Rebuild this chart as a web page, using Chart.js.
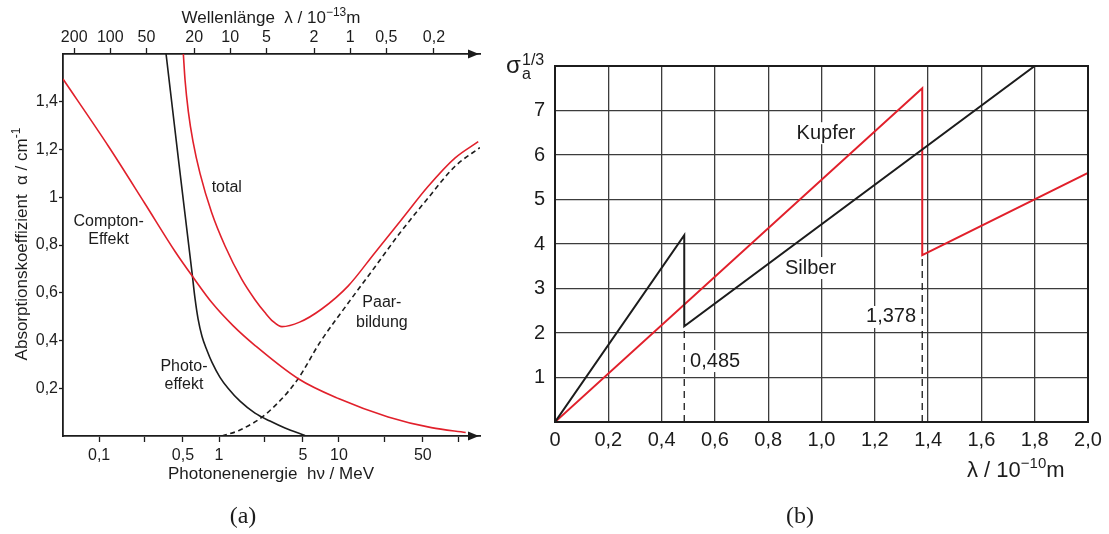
<!DOCTYPE html>
<html>
<head>
<meta charset="utf-8">
<script src="https://cdn.jsdelivr.net/npm/chart.js@4.4.1/dist/chart.umd.min.js"></script>
<style>
html, body { margin: 0; padding: 0; background: #fff; }
#wrap { position: relative; width: 1109px; height: 534px; }
#chartA { position: absolute; left: 0; top: 0; }
#chartB { position: absolute; left: 490px; top: 0; }
</style>
</head>
<body>
<div id="wrap">
  <canvas id="chartA" width="490" height="534"></canvas>
  <canvas id="chartB" width="619" height="534"></canvas>
</div>
<script>
// (a) absorption coefficient vs photon energy (MeV)
const comptonE = [0.05, 0.12, 0.24, 0.43, 0.596, 0.874, 1.308, 2.0, 4.58, 9.9, 25.7, 59, 114];
const comptonA = [1.495, 1.2125, 0.975, 0.773, 0.671, 0.558, 0.4625, 0.379, 0.24, 0.157, 0.08, 0.035, 0.015];

const photoE = [0.3617, 0.464, 0.5957, 0.631, 0.668, 0.7217, 0.794, 0.874, 1.019, 1.189, 1.496, 1.995, 2.661, 3.548, 5.21];
const photoA = [1.6, 1.1375, 0.6833, 0.575, 0.4917, 0.4167, 0.3583, 0.3083, 0.2458, 0.2, 0.1458, 0.0958, 0.0625, 0.0333, 0.002];

const totalE = [0.504, 0.521, 0.555, 0.607, 0.694, 0.869, 1.122, 1.545, 1.995, 2.416, 2.818, 3.35, 4.7, 7.18, 11.96, 19.95, 33.3, 55.5, 92.6, 145];
const totalA = [1.6, 1.49, 1.358, 1.233, 1.1, 0.935, 0.796, 0.657, 0.571, 0.517, 0.48, 0.458, 0.477, 0.532, 0.629, 0.768, 0.907, 1.046, 1.164, 1.233];

const pairE = [1.059, 1.496, 2.512, 4.467, 6.945, 12.35, 19.95, 32.2, 55.2, 92.6, 149.6];
const pairA = [0, 0.025, 0.096, 0.233, 0.392, 0.567, 0.708, 0.85, 0.996, 1.129, 1.208];

const energyTicks = [0.1, 0.24, 0.5, 1, 2.4, 5, 10, 24, 50, 100];
const energyLabels = ['0,1', '', '0,5', '1', '', '5', '10', '', '50', ''];
const waveTicks = [200, 100, 50, 20, 10, 5, 2, 1, 0.5, 0.2];
const waveLabels = ['200', '100', '50', '20', '10', '5', '2', '1', '0,5', '0,2'];
const alphaTicks = [0.2, 0.4, 0.6, 0.8, 1, 1.2, 1.4];
const alphaLabels = ['0,2', '0,4', '0,6', '0,8', '1', '1,2', '1,4'];

// (b) sigma^(1/3) vs wavelength (10^-10 m)
const silberX = [0, 0.485, 0.485, 1.8];
const silberY = [0, 4.2, 2.15, 8.0];
const kupferX = [0, 1.378, 1.378, 2.0];
const kupferY = [0, 7.5, 3.75, 5.6];
const edgeAgX = [0.485, 0.485];
const edgeAgY = [0, 2.15];
const edgeCuX = [1.378, 1.378];
const edgeCuY = [0, 3.75];

const lambdaTicks = [0, 0.2, 0.4, 0.6, 0.8, 1.0, 1.2, 1.4, 1.6, 1.8, 2.0];
const lambdaLabels = ['0', '0,2', '0,4', '0,6', '0,8', '1,0', '1,2', '1,4', '1,6', '1,8', '2,0'];
const sigmaTicks = [0, 1, 2, 3, 4, 5, 6, 7, 8];
const sigmaLabels = ['', '1', '2', '3', '4', '5', '6', '7', ''];

const red = '#e1202b';
const ink = '#1c1c1c';
const FONT = "'Liberation Sans', Arial, Helvetica, sans-serif";
Chart.defaults.font.family = FONT;
Chart.defaults.color = ink;

function pts(xs, ys) {
  return xs.map((x, i) => ({ x: x, y: ys[i] }));
}

// text with superscript / subscript pieces, y is the baseline
function richText(ctx, parts, x, y, size, align) {
  const small = Math.round(size * 0.7);
  let w = 0;
  parts.forEach(p => {
    ctx.font = (p[1] === 'n' ? size : small) + 'px ' + FONT;
    w += ctx.measureText(p[0]).width;
  });
  let cx = align === 'center' ? x - w / 2 : (align === 'right' ? x - w : x);
  ctx.textAlign = 'left';
  ctx.textBaseline = 'alphabetic';
  parts.forEach(p => {
    const s = p[1] === 'n' ? size : small;
    ctx.font = s + 'px ' + FONT;
    const dy = p[1] === 'sup' ? -size * 0.42 : (p[1] === 'sub' ? size * 0.25 : 0);
    ctx.fillText(p[0], cx, y + dy);
    cx += ctx.measureText(p[0]).width;
  });
}

function lines(ctx, arr, x, y, gap) {
  arr.forEach((t, i) => ctx.fillText(t, x, y + i * gap));
}

const annotA = {
  id: 'annotA',
  afterDraw(chart) {
    const ctx = chart.ctx;
    const a = chart.chartArea;
    const sx = chart.scales.x, sy = chart.scales.y;
    ctx.save();
    ctx.fillStyle = ink;
    // arrow heads on top and bottom axes
    [a.top, a.bottom].forEach(yy => {
      ctx.beginPath();
      ctx.moveTo(a.right - 1, yy);
      ctx.lineTo(a.right - 12, yy - 4.5);
      ctx.lineTo(a.right - 12, yy + 4.5);
      ctx.closePath();
      ctx.fill();
    });
    // axis titles
    richText(ctx, [['Wellenlänge  λ / 10', 'n'], ['−13', 'sup'], ['m', 'n']], 271, 23, 17, 'center');
    richText(ctx, [['Photonenenergie  hν / MeV', 'n']], 271, 479, 17, 'center');
    ctx.save();
    ctx.translate(27, 244);
    ctx.rotate(-Math.PI / 2);
    richText(ctx, [['Absorptionskoeffizient  α / cm', 'n'], ['-1', 'sup']], 0, 0, 17, 'center');
    ctx.restore();
    // curve labels
    ctx.font = '16px ' + FONT;
    ctx.textAlign = 'center';
    ctx.textBaseline = 'middle';
    ctx.fillText('total', sx.getPixelForValue(1.16), sy.getPixelForValue(1.04));
    lines(ctx, ['Compton-', 'Effekt'], sx.getPixelForValue(0.12), sy.getPixelForValue(0.9), 18);
    lines(ctx, ['Photo-', 'effekt'], sx.getPixelForValue(0.51), sy.getPixelForValue(0.29), 18);
    lines(ctx, ['Paar-', 'bildung'], sx.getPixelForValue(22.8), sy.getPixelForValue(0.558), 20);
    // caption
    ctx.font = '24px "Liberation Serif", "DejaVu Serif", serif';
    ctx.fillText('(a)', 243, 517);
    ctx.restore();
  }
};

new Chart(document.getElementById('chartA'), {
  type: 'line',
  data: {
    datasets: [
      { data: pts(comptonE, comptonA), borderColor: red },
      { data: pts(totalE, totalA), borderColor: red },
      { data: pts(photoE, photoA), borderColor: ink },
      { data: pts(pairE, pairA), borderColor: ink, borderDash: [5, 3.5] }
    ]
  },
  options: {
    responsive: false,
    animation: false,
    devicePixelRatio: 1,
    layout: { padding: { left: 0, right: 10, top: 0, bottom: 38 } },
    elements: {
      point: { radius: 0 },
      line: { borderWidth: 1.6, cubicInterpolationMode: 'monotone', fill: false }
    },
    plugins: { legend: { display: false }, tooltip: { enabled: false } },
    scales: {
      x: {
        type: 'logarithmic', position: 'bottom', min: 0.05, max: 150,
        afterBuildTicks: s => { s.ticks = energyTicks.map(v => ({ value: v })); },
        afterFit: s => { s.height = 60; },
        ticks: { callback: (v, i) => energyLabels[i], autoSkip: false, maxRotation: 0, padding: 4, font: { size: 16 } },
        grid: { drawOnChartArea: false, tickLength: 6, tickColor: ink, tickWidth: 1.3 },
        border: { color: ink, width: 1.8 }
      },
      x2: {
        type: 'logarithmic', axis: 'x', position: 'top', reverse: true,
        min: 12.4 / 150, max: 12.4 / 0.05,
        afterBuildTicks: s => { s.ticks = waveTicks.map(v => ({ value: v })); },
        afterFit: s => { s.height = 54; },
        ticks: { callback: (v, i) => waveLabels[i], autoSkip: false, maxRotation: 0, padding: 1, font: { size: 16 } },
        grid: { drawOnChartArea: false, tickLength: 6, tickColor: ink, tickWidth: 1.3 },
        border: { color: ink, width: 1.8 }
      },
      y: {
        type: 'linear', min: 0, max: 1.6,
        afterBuildTicks: s => { s.ticks = alphaTicks.map(v => ({ value: v })); },
        afterFit: s => { s.width = 63; },
        ticks: { callback: (v, i) => alphaLabels[i], padding: 1, font: { size: 16 } },
        grid: { drawOnChartArea: false, tickLength: 4, tickColor: ink, tickWidth: 1.3 },
        border: { color: ink, width: 1.8 }
      }
    }
  },
  plugins: [annotA]
});

function boxedText(ctx, text, x, y, align) {
  const w = ctx.measureText(text).width;
  const left = align === 'center' ? x - w / 2 : (align === 'right' ? x - w : x);
  ctx.fillStyle = '#fff';
  ctx.fillRect(left - 2, y - 11, w + 4, 22);
  ctx.fillStyle = ink;
  ctx.textAlign = align;
  ctx.fillText(text, x, y);
}

const annotB = {
  id: 'annotB',
  afterDatasetsDraw(chart) {
    const ctx = chart.ctx;
    const a = chart.chartArea;
    const sx = chart.scales.x, sy = chart.scales.y;
    ctx.save();
    ctx.strokeStyle = ink;
    ctx.lineWidth = 2;
    ctx.strokeRect(a.left, a.top, a.right - a.left, a.bottom - a.top);
    ctx.font = '20px ' + FONT;
    ctx.textBaseline = 'middle';
    boxedText(ctx, 'Kupfer', sx.getPixelForValue(1.017), sy.getPixelForValue(6.49), 'center');
    boxedText(ctx, 'Silber', sx.getPixelForValue(0.959), sy.getPixelForValue(3.46), 'center');
    boxedText(ctx, '0,485', sx.getPixelForValue(0.507), sy.getPixelForValue(1.37), 'left');
    boxedText(ctx, '1,378', sx.getPixelForValue(1.355), sy.getPixelForValue(2.36), 'right');
    // axis titles
    ctx.fillStyle = ink;
    ctx.textAlign = 'left';
    ctx.textBaseline = 'alphabetic';
    ctx.font = '24px ' + FONT;
    ctx.fillText('σ', 16, 73);
    ctx.font = '16px ' + FONT;
    ctx.fillText('a', 32, 79);
    ctx.fillText('1/3', 32, 65);
    richText(ctx, [['λ / 10', 'n'], ['−10', 'sup'], ['m', 'n']], 477, 477, 22, 'left');
    // caption
    ctx.font = '24px "Liberation Serif", "DejaVu Serif", serif';
    ctx.textAlign = 'center';
    ctx.textBaseline = 'middle';
    ctx.fillText('(b)', 310, 517);
    ctx.restore();
  }
};

new Chart(document.getElementById('chartB'), {
  type: 'line',
  data: {
    datasets: [
      { data: pts(edgeAgX, edgeAgY), borderColor: ink, borderWidth: 1.3, borderDash: [7, 5] },
      { data: pts(edgeCuX, edgeCuY), borderColor: ink, borderWidth: 1.3, borderDash: [7, 5] },
      { data: pts(silberX, silberY), borderColor: ink },
      { data: pts(kupferX, kupferY), borderColor: red }
    ]
  },
  options: {
    responsive: false,
    animation: false,
    devicePixelRatio: 1,
    layout: { padding: { left: 0, right: 21, top: 66, bottom: 52 } },
    elements: {
      point: { radius: 0 },
      line: { borderWidth: 2, tension: 0, fill: false }
    },
    plugins: { legend: { display: false }, tooltip: { enabled: false } },
    scales: {
      x: {
        type: 'linear', min: 0, max: 2,
        afterBuildTicks: s => { s.ticks = lambdaTicks.map(v => ({ value: v })); },
        afterFit: s => { s.height = 60; },
        ticks: { callback: (v, i) => lambdaLabels[i], autoSkip: false, maxRotation: 0, padding: 6, font: { size: 20 } },
        grid: { color: '#3c3c3c', lineWidth: 1.3, drawTicks: false },
        border: { display: false }
      },
      y: {
        type: 'linear', min: 0, max: 8,
        afterBuildTicks: s => { s.ticks = sigmaTicks.map(v => ({ value: v })); },
        afterFit: s => { s.width = 65; },
        ticks: { callback: (v, i) => sigmaLabels[i], padding: 10, font: { size: 20 } },
        grid: { color: '#3c3c3c', lineWidth: 1.3, drawTicks: false },
        border: { display: false }
      }
    }
  },
  plugins: [annotB]
});
</script>
</body>
</html>
